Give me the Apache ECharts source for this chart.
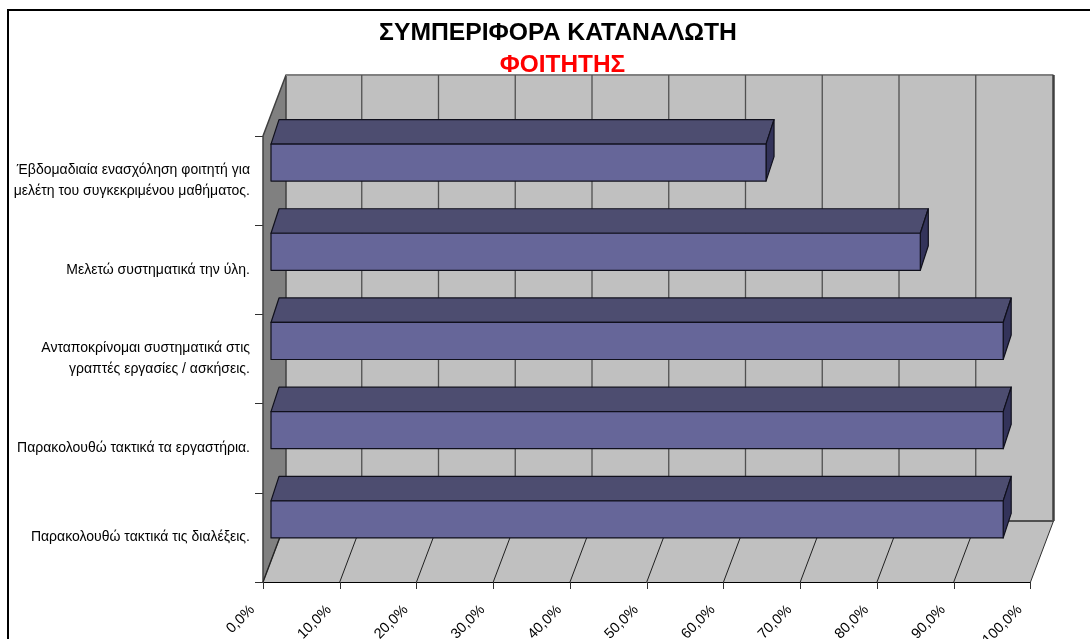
<!DOCTYPE html>
<html><head><meta charset="utf-8">
<style>html,body{margin:0;padding:0;background:#fff}#c{width:1090px;height:639px}</style>
<script src="https://cdn.jsdelivr.net/npm/echarts@6/dist/echarts.min.js"></script></head>
<body><div id="c"></div>
<script>
const categories = [
  'Παρακολουθώ τακτικά τις διαλέξεις.',
  'Παρακολουθώ τακτικά τα εργαστήρια.',
  'Ανταποκρίνομαι συστηματικά στις\nγραπτές εργασίες / ασκήσεις.',
  'Μελετώ συστηματικά την ύλη.',
  'Έβδομαδιαία ενασχόληση φοιτητή για\nμελέτη του συγκεκριμένου μαθήματος.'
];
const values = [95.4, 95.4, 95.4, 84.6, 64.5];
const gridTicks = [0,10,20,30,40,50,60,70,80,90,100];
const titleText = 'ΣΥΜΠΕΡΙΦΟΡΑ ΚΑΤΑΝΑΛΩΤΗ';
const subtitleText = 'ΦΟΙΤΗΤΗΣ';

const depth = {dx:23, dy:61};
const wallFill = '#c0c0c0', sideFill = '#808080', faceFill = '#666699', topFill = '#4d4d70', endFill = '#33335a';

function poly(points, fill, stroke, lw){
  return {type:'polygon', shape:{points}, style:{fill, stroke:stroke||null, lineWidth:lw||0, lineJoin:'round'}};
}
function line(a,b,stroke,lw){
  return {type:'line', shape:{x1:a[0],y1:a[1],x2:b[0],y2:b[1]}, style:{stroke, lineWidth:lw}};
}
function renderWalls(params, api){
  const g = params.coordSys, l=g.x, r=g.x+g.width, t=g.y, b=g.y+g.height, dx=depth.dx, dy=depth.dy;
  const ch = [
    poly([[l+dx,t-dy],[r+dx,t-dy],[r+dx,b-dy],[l+dx,b-dy]], wallFill),
    poly([[l,b],[r,b],[r+dx,b-dy],[l+dx,b-dy]], wallFill),
    poly([[l,t],[l+dx,t-dy],[l+dx,b-dy],[l,b]], sideFill, '#404040', 1.5),
    line([l+dx,t-dy],[r+dx,t-dy],'#808080',2),
    line([r+dx,t-dy],[r+dx,b-dy],'#404040',2.5),
    line([l+dx,b-dy],[r+dx,b-dy],'#505050',2),
    line([r,b],[r+dx,b-dy],'#303030',1)
  ];
  gridTicks.forEach(v=>{
    const x = api.coord([v,0])[0];
    if(v>0 && v<100){
      ch.push(line([x+dx-1,t-dy],[x+dx-1,b-dy],'#505050',1.3));
    }
    if(v<100) ch.push(line([x,b],[x+dx,b-dy],'#202020',1));
  });
  return {type:'group', children:ch};
}
function renderBar(params, api){
  const v = api.value(0), c = api.coord([v, api.value(1)]), o = api.coord([0, api.value(1)]);
  const band = api.size([0,1])[1];
  const h = band*0.415, cy = c[1]-band*0.202, ox = 8, dx = 8, dy = 24.5;
  const x0 = o[0]+ox, x1 = c[0]+ox, y0 = cy-h/2, y1 = cy+h/2;
  const s = '#10101c';
  return {type:'group', children:[
    poly([[x0,y0],[x1,y0],[x1+dx,y0-dy],[x0+dx,y0-dy]], topFill, s, 1.2),
    poly([[x1,y0],[x1+dx,y0-dy],[x1+dx,y1-dy],[x1,y1]], endFill, s, 1.2),
    poly([[x0,y0],[x1,y0],[x1,y1],[x0,y1]], faceFill, s, 1.2)
  ]};
}
const chart = echarts.init(document.getElementById('c'), null, {renderer:'canvas'});
const F = '"Liberation Sans", Arial, sans-serif';
chart.setOption({
  animation:false,
  backgroundColor:'#ffffff',
  graphic:[{type:'rect', z:-1, shape:{x:8,y:10,width:1200,height:800}, style:{fill:'#fff',stroke:'#000',lineWidth:2}}],
  title:[
    {text:titleText, left:553, top:16, textAlign:'center', textStyle:{fontFamily:F,fontSize:24.7,fontWeight:'bold',color:'#000'}},
    {text:subtitleText, left:557.5, top:48, textAlign:'center', z:20, textStyle:{fontFamily:F,fontSize:24.4,fontWeight:'bold',color:'#ff0000'}}
  ],
  grid:{left:263, right:59.5, top:136, bottom:57, containLabel:false, outerBoundsMode:'none'},
  xAxis:{type:'value', min:0, max:100, interval:10,
    axisLine:{show:true,lineStyle:{color:'#000',width:1}},
    axisTick:{show:true,length:7,lineStyle:{color:'#303030'}},
    splitLine:{show:false},
    axisLabel:{rotate:45, margin:15, padding:[0,15,0,0], verticalAlign:'middle', fontFamily:F, fontSize:14.5, color:'#000',
      formatter:v=>v.toFixed(1).replace('.',',')+'%'}},
  yAxis:{type:'category', data:categories,
    axisLine:{show:false},
    axisTick:{show:true,length:8,lineStyle:{color:'#303030'}},
    splitLine:{show:false},
    axisLabel:{margin:13, align:'right', fontFamily:F, fontSize:14, lineHeight:21, color:'#000'}},
  series:[
    {type:'custom', name:'walls', silent:true, z:1, data:[[0,0]], renderItem:renderWalls, clip:false, encode:{x:0,y:1}},
    {type:'custom', name:'Ποσοστό', z:2, clip:false, data:values.map((v,i)=>[v,i]), renderItem:renderBar, encode:{x:0,y:1}}
  ]
});
</script></body></html>
